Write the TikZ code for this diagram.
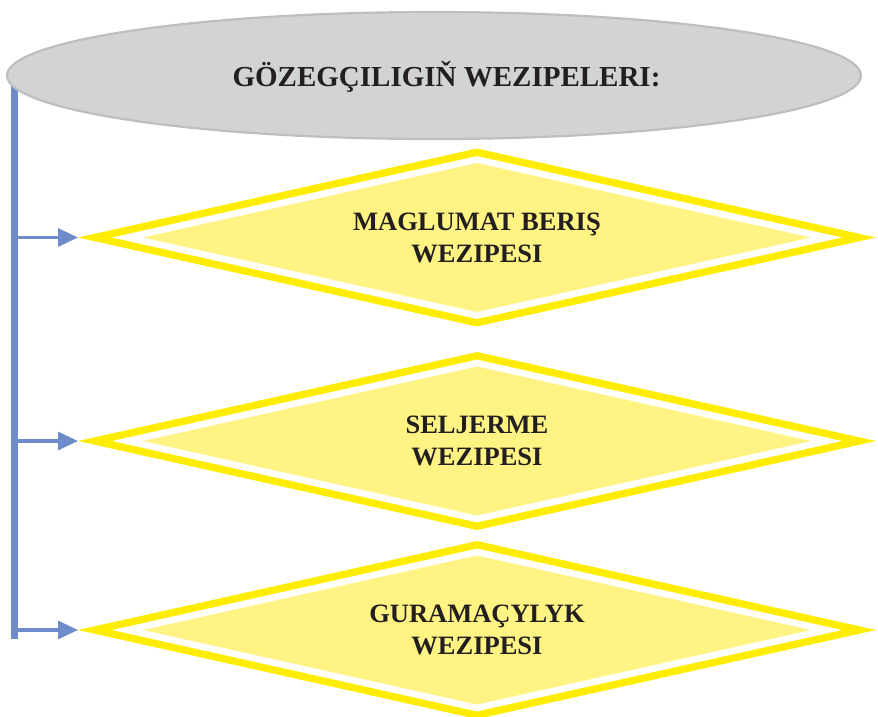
\documentclass[tikz,border=0pt]{standalone}
\usepackage{fontspec}
\setmainfont{Liberation Serif}
\usepackage{xcolor}
\usepackage{tikz}
\usetikzlibrary{arrows.meta,positioning,shapes.geometric,calc}
\tikzset{
  branch/.style={-{Triangle[length=20pt,width=18pt]}, line width=3.2pt,
    draw=DutyBlue},
  trunkline/.style={line width=6.6pt, draw=DutyBlue},
  % yellow band, white gap, pale fill: three nested diamonds
  dutybox/.style={diamond, aspect=4.48, minimum width=798pt, minimum height=178pt,
    inner sep=2pt, outer sep=0pt, align=center, fill=DutyYellow,
    font=\fontsize{26.5}{32}\selectfont\bfseries, text=DutyText,
    path picture={
      \fill[white] ($(path picture bounding box.west)+(34pt,0pt)$)
        -- ($(path picture bounding box.north)+(0pt,-7.6pt)$)
        -- ($(path picture bounding box.east)+(-34pt,0pt)$)
        -- ($(path picture bounding box.south)+(0pt,7.6pt)$) -- cycle;
      \fill[DutyFill] ($(path picture bounding box.west)+(65pt,0pt)$)
        -- ($(path picture bounding box.north)+(0pt,-14.5pt)$)
        -- ($(path picture bounding box.east)+(-65pt,0pt)$)
        -- ($(path picture bounding box.south)+(0pt,14.5pt)$) -- cycle;
    }}
}
\definecolor{DutyBlue}{HTML}{6D8CC9}
\definecolor{DutyYellow}{HTML}{FFED00}
\definecolor{DutyFill}{HTML}{FFF383}
\definecolor{HeadGrey}{HTML}{D1D3D4}
\definecolor{HeadEdge}{HTML}{BCBEC0}
\definecolor{DutyText}{HTML}{231F20}

\begin{document}
\begin{tikzpicture}[
  x=1pt, y=-1pt,
  head/.style={ellipse, fill=HeadGrey, draw=HeadEdge, line width=2.2pt,
    minimum width=854pt, minimum height=127pt, inner sep=0pt},
  headtext/.style={font=\fontsize{29}{32}\selectfont\bfseries, text=DutyText, inner sep=0pt}
]
\useasboundingbox (0,0) rectangle (878,716);

\coordinate (trunk) at (14.5,76);
\coordinate (trunkend) at (14.5,639);
\draw[trunkline] (trunk) -- (trunkend);

\node[head] at (434,75.5) (title) {};
\node[headtext] at (446.5,77) (titletext) {GÖZEGÇILIGIŇ WEZIPELERI:};

\node[dutybox] at (477,237.5) (info) {MAGLUMAT BERIŞ\\WEZIPESI};
\node[dutybox] at (477,441) (analysis) {SELJERME\\WEZIPESI};
\node[dutybox] at (477,630) (organise) {GURAMAÇYLYK\\WEZIPESI};

\draw[branch] (info.west -| trunk) -- (info.west);
\draw[branch] (analysis.west -| trunk) -- (analysis.west);
\draw[branch] (organise.west -| trunk) -- (organise.west);
\end{tikzpicture}
\end{document}
